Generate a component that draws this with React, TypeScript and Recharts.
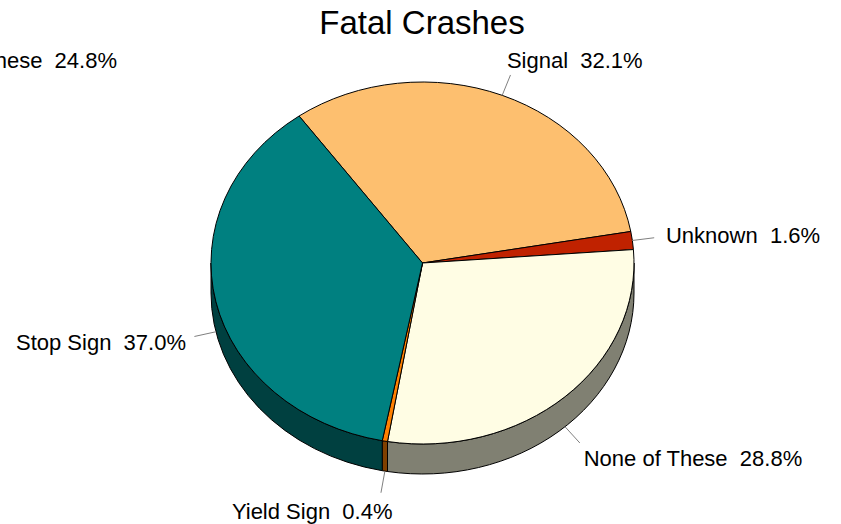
import React from 'react';
import { PieChart, Pie } from 'recharts';

const names = ['Signal', 'Unknown', 'None of These', 'Yield Sign', 'Stop Sign'];
const values = [32.1, 1.6, 28.8, 0.4, 37.0];
const topColors = ['#FDBF6F', '#C02200', '#FFFDE4', '#FF8000', '#008080'];
const sideColors = ['#7E5F37', '#601100', '#808072', '#804000', '#004040'];
const title = 'Fatal Crashes';
const strayLabel = 'None of These  24.8%';

const W = 841;
const H = 524;
const CX = 422.5;
const CY = 263;
const RX = 211.5;
const RY = 181;
const DEPTH = 30;
const START = 125.7;
const FONT = '"Liberation Sans", Arial, Helvetica, sans-serif';

const data = names.map((n, i) => ({ name: n, value: values[i], fill: topColors[i], side: sideColors[i] }));

const RAD = Math.PI / 180;

function pt(cx: number, cy: number, rx: number, ry: number, a: number, dy = 0) {
  return [cx + rx * Math.cos(a * RAD), cy - ry * Math.sin(a * RAD) + dy];
}

function Slice3D(props: any) {
  const { cx, cy, outerRadius, startAngle, endAngle, fill } = props;
  const side = props.side ?? props.payload?.side ?? '#444';
  const rx = outerRadius;
  const ry = outerRadius * (RY / RX);
  const lo = Math.min(startAngle, endAngle);
  const hi = Math.max(startAngle, endAngle);
  const sides: string[] = [];
  for (let k = -2; k <= 2; k++) {
    const s = Math.max(lo, -180 + 360 * k);
    const e = Math.min(hi, 360 * k);
    if (e - s > 0.001) {
      const [x1, y1] = pt(cx, cy, rx, ry, s);
      const [x2, y2] = pt(cx, cy, rx, ry, e);
      const [x3, y3] = pt(cx, cy, rx, ry, e, DEPTH);
      const [x4, y4] = pt(cx, cy, rx, ry, s, DEPTH);
      const large = e - s > 180 ? 1 : 0;
      sides.push(
        `M${x1},${y1} A${rx},${ry} 0 ${large} 0 ${x2},${y2} L${x3},${y3} A${rx},${ry} 0 ${large} 1 ${x4},${y4} Z`
      );
    }
  }
  const [sx, sy] = pt(cx, cy, rx, ry, startAngle);
  const [ex, ey] = pt(cx, cy, rx, ry, endAngle);
  const delta = Math.abs(startAngle - endAngle);
  const sweep = startAngle > endAngle ? 1 : 0;
  const top = `M${cx},${cy} L${sx},${sy} A${rx},${ry} 0 ${delta > 180 ? 1 : 0} ${sweep} ${ex},${ey} Z`;
  return (
    <g>
      {sides.map((d, i) => (
        <path key={i} d={d} fill={side} stroke="#000" strokeWidth={1} />
      ))}
      <path d={top} fill={fill} stroke="#000" strokeWidth={1} />
    </g>
  );
}

function renderLabel(props: any) {
  const { cx, cy, midAngle, outerRadius, name, value } = props;
  const rx = outerRadius;
  const ry = outerRadius * (RY / RX);
  const c = Math.cos(midAngle * RAD);
  const s = Math.sin(midAngle * RAD);
  const [x0, y0] = pt(cx, cy, rx, ry, midAngle, s < 0 ? DEPTH : 0);
  const x1 = x0 + 22 * c;
  const y1 = y0 - 22 * s;
  const off = 25 * Math.abs(c) - 13;
  const tx = c >= 0 ? x1 + off : x1 - off + 3;
  const ty = s >= 0 ? y1 + 7 - 15 * s : y1 + 10 - 17 * s;
  return (
    <g>
      <line x1={x0} y1={y0} x2={x1} y2={y1} stroke="#808080" strokeWidth={1} />
      <text
        x={tx}
        y={ty}
        textAnchor={c >= 0 ? 'start' : 'end'}
        fontFamily={FONT}
        fontSize={22}
        fill="#000"
        style={{ whiteSpace: 'pre' }}
      >
        {`${name}  ${Number(value).toFixed(1)}%`}
      </text>
    </g>
  );
}

export default function App() {
  return (
    <div style={{ position: 'absolute', left: 0, top: 0, width: W, height: H, background: '#fff' }}>
      <PieChart width={W} height={H} margin={{ top: 0, right: 0, bottom: 0, left: 0 }}>
        <Pie
          data={data}
          dataKey="value"
          nameKey="name"
          cx={CX}
          cy={CY}
          innerRadius={0}
          outerRadius={RX}
          startAngle={START}
          endAngle={START - 360}
          stroke="#000"
          shape={Slice3D}
          label={renderLabel}
          labelLine={false}
          isAnimationActive={false}
        />
      </PieChart>
      <svg
        width={W}
        height={H}
        style={{ position: 'absolute', left: 0, top: 0, pointerEvents: 'none' }}
      >
        <text x={422} y={34} textAnchor="middle" fontFamily={FONT} fontSize={33} fill="#000">
          {title}
        </text>
        <text x={117} y={68} textAnchor="end" fontFamily={FONT} fontSize={22} fill="#000" style={{ whiteSpace: 'pre' }}>
          {strayLabel}
        </text>
      </svg>
    </div>
  );
}
